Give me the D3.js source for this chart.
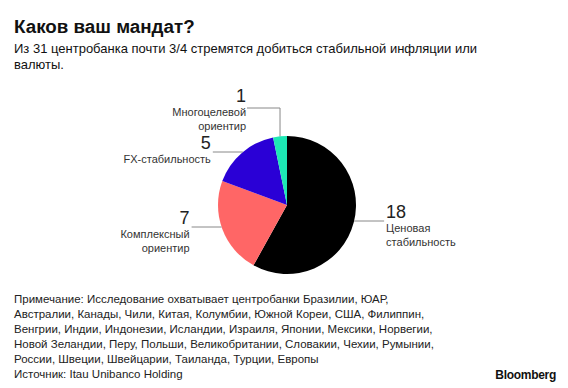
<!DOCTYPE html>
<head>
   <meta charset="utf-8">
   <script src="https://d3js.org/d3.v7.min.js"></script>
   <style>
   body{ margin: 0; background: #fff; }
   text{ font-family: "Liberation Sans", Arial, sans-serif; fill: #111; }
   text.title{ font-size: 18.8px; font-weight: 700; }
   text.subTitle{ font-size: 13px; }
   text.num{ font-size: 18px; fill: #222; }
   text.cat{ font-size: 11px; fill: #333; }
   text.note{ font-size: 11.5px; fill: #222; }
   text.brand{ font-size: 12px; font-weight: 700; letter-spacing: -0.3px; }
   line.leader, polyline.leader{ stroke: #888; stroke-width: 1; fill: none; }
   </style>
</head>
<body>
<script>
const width = 568;
const height = 388;

// data
const categories = ["Ценовая стабильность", "Комплексный ориентир", "FX-стабильность", "Многоцелевой ориентир"];
const counts     = [18, 7, 5, 1];
const colours    = ["#000000", "#ff6666", "#2a00d6", "#1de8b5"];
const catLines   = [["Ценовая", "стабильность"], ["Комплексный", "ориентир"], ["FX-стабильность"], ["Многоцелевой", "ориентир"]];

const title = "Каков ваш мандат?";
const subTitle = ["Из 31 центробанка почти 3/4 стремятся добиться стабильной инфляции или", "валюты."];
const notes = [
   "Примечание: Исследование охватывает центробанки Бразилии, ЮАР,",
   "Австралии, Канады, Чили, Китая, Колумбии, Южной Кореи, США, Филиппин,",
   "Венгрии, Индии, Индонезии, Исландии, Израиля, Японии, Мексики, Норвегии,",
   "Новой Зеландии, Перу, Польши, Великобритании, Словакии, Чехии, Румынии,",
   "России, Швеции, Швейцарии, Таиланда, Турции, Европы",
   "Источник: Itau Unibanco Holding"
];

const svg = d3.select("body").append("svg")
   .attr("width", width)
   .attr("height", height);

svg.append("text").attr("class", "title").attr("x", 14).attr("y", 33).text(title);

svg.selectAll("text.subTitle")
   .data(subTitle)
   .enter().append("text")
   .attr("class", "subTitle")
   .attr("x", 14)
   .attr("y", (d, i) => 53 + i * 16)
   .text(d => d);

const cx = 287, cy = 205, r = 69;

const pie = d3.pie().sort(null).value(d => d.value);
const arcs = pie(categories.map((c, i) => ({ name: c, value: counts[i], colour: colours[i] })));
const arc = d3.arc().innerRadius(0).outerRadius(r);

const g = svg.append("g").attr("transform", `translate(${cx},${cy})`);

g.selectAll("path.slice")
   .data(arcs)
   .enter().append("path")
   .attr("class", "slice")
   .attr("d", arc)
   .style("fill", d => d.data.colour);

// label placement per slice: side and vertical offset of the leader line
const labelSpec = [
   { side: "right", dy: 16 },   // 18
   { side: "left",  dy: 22 },   // 7
   { side: "left",  dy: -53 },  // 5
   { side: "top",   dy: -97 }   // 1
];

arcs.forEach((d, i) => {
   const s = labelSpec[i];
   const mid = (d.startAngle + d.endAngle) / 2;
   const cs = catLines[i];
   if (s.side === "top") {
      // elbow line from the top of the slice up and left
      const px = Math.sin(mid) * r, py = -Math.cos(mid) * r;
      const ly = s.dy;
      const lx = px - 33;
      g.append("polyline").attr("class", "leader")
         .attr("points", `${px},${py} ${px},${ly} ${lx},${ly}`);
      g.append("text").attr("class", "num").attr("x", lx - 1).attr("y", ly - 6)
         .style("text-anchor", "end").text(counts[i]);
      cs.forEach((t, j) => g.append("text").attr("class", "cat")
         .attr("x", lx - 1).attr("y", ly + 8 + j * 14)
         .style("text-anchor", "end").text(t));
   } else {
      const ly = s.dy;
      const ex = (s.side === "right" ? 1 : -1) * Math.sqrt(Math.max(0, r * r - ly * ly));
      const lx = ex + (s.side === "right" ? 30 : -30);
      g.append("line").attr("class", "leader")
         .attr("x1", ex).attr("y1", ly).attr("x2", lx).attr("y2", ly);
      const anchor = s.side === "right" ? "start" : "end";
      const tx = lx + (s.side === "right" ? 2 : -2);
      g.append("text").attr("class", "num").attr("x", tx).attr("y", ly - 3)
         .style("text-anchor", anchor).text(counts[i]);
      cs.forEach((t, j) => g.append("text").attr("class", "cat")
         .attr("x", tx).attr("y", ly + 11 + j * 14)
         .style("text-anchor", anchor).text(t));
   }
});

svg.selectAll("text.note")
   .data(notes)
   .enter().append("text")
   .attr("class", "note")
   .attr("x", 14)
   .attr("y", (d, i) => 303 + i * 15)
   .text(d => d);

svg.append("text").attr("class", "brand")
   .attr("x", 556).attr("y", 379)
   .style("text-anchor", "end")
   .text("Bloomberg");
</script>
</body>
